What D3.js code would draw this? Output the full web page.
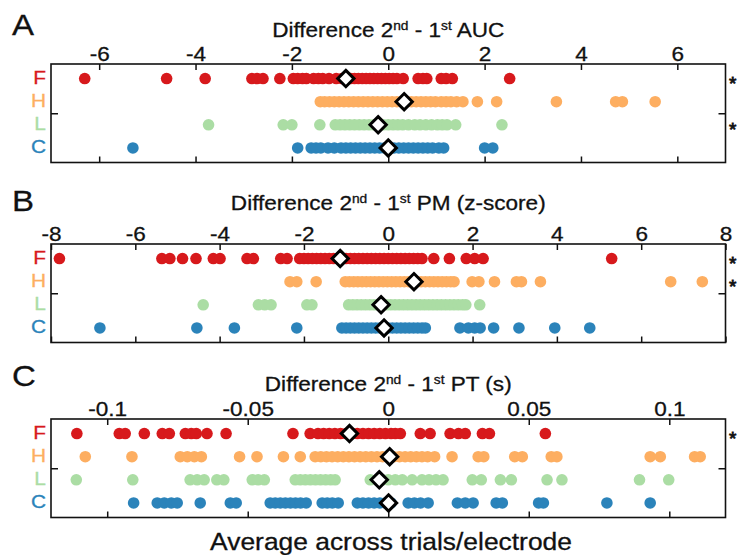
<!DOCTYPE html>
<html>
<head>
<meta charset="utf-8">
<script src="https://cdn.jsdelivr.net/npm/d3@7"></script>
<style>
  body { margin: 0; background: #fff; }
  text { font-family: "Liberation Sans", Arial, sans-serif; }
</style>
</head>
<body>
<div id="chart"></div>
<script>
const svgWidth = 737;
const svgHeight = 555;

const groups = ["F", "H", "L", "C"];
const groupColors = ["#d7191c", "#fdae61", "#abdda4", "#2b83ba"];

// A: AUC difference
const aucTicks = [-6, -4, -2, 0, 2, 4, 6];
const aucF = [-6.3, -4.6, -3.8, -2.83, -2.72, -2.6, -2.25, -1.97, -1.88, -1.78, -1.7, -1.55, -1.45, -1.36, -1.23, -1.08, -0.96, -0.86, -0.78, -0.7, -0.62, -0.54, -0.46, -0.38, -0.3, -0.22, -0.14, -0.06, 0.02, 0.1, 0.18, 0.31, 0.62, 0.72, 0.8, 1.1, 1.2, 1.33, 2.52];
const aucH = [-1.41, -1.32, -1.22, -1.12, -1.02, -0.92, -0.82, -0.72, -0.62, -0.52, -0.42, -0.32, -0.22, -0.12, -0.02, 0.08, 0.18, 0.28, 0.38, 0.48, 0.58, 0.68, 0.78, 0.88, 0.98, 1.1, 1.2, 1.3, 1.42, 1.55, 1.85, 2.25, 3.49, 4.72, 4.86, 5.54];
const aucL = [-3.73, -2.18, -2.0, -1.42, -1.1, -1.0, -0.9, -0.8, -0.7, -0.6, -0.5, -0.4, -0.3, -0.2, -0.1, 0, 0.1, 0.2, 0.3, 0.42, 0.55, 0.66, 0.78, 0.9, 1.02, 1.12, 1.22, 1.4, 2.36];
const aucC = [-5.3, -1.88, -1.6, -1.5, -1.4, -1.25, -1.12, -0.98, -0.88, -0.78, -0.68, -0.58, -0.48, -0.38, -0.28, -0.18, -0.08, 0.02, 0.12, 0.22, 0.32, 0.42, 0.52, 0.62, 0.72, 0.82, 0.92, 1.05, 1.15, 2.0, 2.17];
const aucMid = [-0.88, 0.33, -0.21, 0];
const aucStars = ["F", "L"];

// B: PM difference
const pmTicks = [-8, -6, -4, -2, 0, 2, 4, 6, 8];
const pmF = [-7.8, -5.37, -5.18, -4.88, -4.56, -4.15, -3.99, -3.35, -3.2, -2.55, -2.4, -2.1, -2.0, -1.9, -1.8, -1.7, -1.6, -1.5, -1.4, -1.3, -1.2, -1.1, -1.0, -0.9, -0.8, -0.7, -0.6, -0.5, -0.4, -0.3, -0.2, -0.1, 0, 0.1, 0.2, 0.3, 0.4, 0.5, 0.6, 0.7, 0.8, 1.08, 1.45, 1.85, 2.05, 2.25, 5.3];
const pmH = [-2.33, -2.17, -1.71, -1.02, -0.92, -0.82, -0.72, -0.62, -0.52, -0.42, -0.32, -0.22, -0.12, -0.02, 0.08, 0.18, 0.28, 0.38, 0.48, 0.58, 0.68, 0.78, 0.88, 0.98, 1.08, 1.18, 1.28, 1.38, 1.48, 1.56, 1.99, 2.15, 2.52, 3.04, 3.16, 3.61, 6.7, 7.45];
const pmL = [-4.39, -3.08, -2.93, -2.78, -1.93, -1.81, -0.94, -0.84, -0.74, -0.64, -0.54, -0.44, -0.34, -0.24, -0.14, -0.04, 0.06, 0.16, 0.26, 0.36, 0.46, 0.56, 0.66, 0.76, 0.86, 0.96, 1.06, 1.16, 1.26, 1.36, 1.46, 1.56, 1.66, 1.76, 1.84, 2.17];
const pmC = [-6.84, -4.54, -3.65, -2.17, -1.1, -1.0, -0.9, -0.8, -0.7, -0.6, -0.5, -0.4, -0.3, -0.2, -0.1, 0, 0.1, 0.2, 0.3, 0.4, 0.5, 0.6, 0.7, 0.8, 0.88, 1.7, 1.9, 2.05, 2.18, 2.5, 3.1, 3.95, 4.78];
const pmMid = [-1.14, 0.61, -0.17, -0.1];
const pmStars = ["F", "H"];

// C: PT difference (s)
const ptTicks = [-0.1, -0.05, 0, 0.05, 0.1];
const ptF = [-0.1108, -0.0957, -0.0936, -0.0868, -0.0804, -0.0779, -0.0722, -0.0701, -0.0683, -0.0645, -0.0577, -0.0339, -0.0278, -0.025, -0.023, -0.021, -0.019, -0.017, -0.015, -0.013, -0.011, -0.009, -0.007, -0.005, -0.003, -0.001, 0.001, 0.0025, 0.0043, 0.0114, 0.0149, 0.022, 0.025, 0.0274, 0.0335, 0.036, 0.0559];
const ptH = [-0.1078, -0.0912, -0.074, -0.0715, -0.069, -0.0665, -0.0529, -0.0467, -0.0373, -0.0313, -0.026, -0.024, -0.022, -0.02, -0.018, -0.016, -0.014, -0.012, -0.01, -0.008, -0.006, -0.004, -0.002, 0, 0.002, 0.004, 0.006, 0.008, 0.01, 0.012, 0.014, 0.0165, 0.0227, 0.032, 0.034, 0.045, 0.0477, 0.058, 0.06, 0.0932, 0.0968, 0.109, 0.111];
const ptL = [-0.111, -0.0909, -0.0705, -0.068, -0.0655, -0.061, -0.0585, -0.0484, -0.0463, -0.0441, -0.0331, -0.0313, -0.0295, -0.0277, -0.0259, -0.0241, -0.0223, -0.0205, -0.0189, -0.0064, -0.004, -0.002, 0, 0.0025, 0.005, 0.0085, 0.012, 0.0145, 0.017, 0.0195, 0.0299, 0.0331, 0.0399, 0.0438, 0.0565, 0.0618, 0.0894, 0.0998];
const ptC = [-0.0906, -0.0822, -0.0797, -0.0772, -0.0751, -0.0669, -0.0562, -0.0541, -0.042, -0.0402, -0.0384, -0.0366, -0.0348, -0.033, -0.0312, -0.0292, -0.0235, -0.0217, -0.0199, -0.0178, -0.011, -0.009, -0.007, -0.005, -0.003, -0.001, 0.001, 0.0071, 0.0093, 0.0115, 0.0142, 0.0246, 0.0274, 0.0302, 0.0384, 0.0406, 0.0535, 0.0552, 0.0778, 0.0932];
const ptMid = [-0.0138, 0.0005, -0.0032, 0.0001];
const ptStars = ["F"];

const panels = [
  { letter: "A", unit: "AUC", top: 64, domain: [-7, 7], ticks: aucTicks,
    rows: [aucF, aucH, aucL, aucC], mids: aucMid, stars: aucStars, letterY: 35, titleY: 37 },
  { letter: "B", unit: "PM (z-score)", top: 244, domain: [-8, 8], ticks: pmTicks,
    rows: [pmF, pmH, pmL, pmC], mids: pmMid, stars: pmStars, letterY: 211, titleY: 210 },
  { letter: "C", unit: "PT (s)", top: 419, domain: [-0.12, 0.12], ticks: ptTicks,
    rows: [ptF, ptH, ptL, ptC], mids: ptMid, stars: ptStars, letterY: 386, titleY: 391 }
];

const left = 51;
const right = 725.5;
const boxHeight = 98.5;
const sx = 1.1; // the original figure is a bit stretched sideways

const svg = d3.select("#chart")
  .append("svg")
  .attr("width", svgWidth)
  .attr("height", svgHeight);

// text that keeps the horizontal stretch of the source figure
function stretchedText(parent, x, y, size, anchor, color = "#111") {
  return parent.append("text")
    .attr("transform", `translate(${x},${y}) scale(${sx},1)`)
    .attr("font-size", size)
    .attr("text-anchor", anchor)
    .attr("fill", color)
    .attr("stroke", color)
    .attr("stroke-width", 0.3);
}

panels.forEach(p => {
  const g = svg.append("g");

  const x = d3.scaleLinear().domain(p.domain).range([left, right]);
  // rows 0..3 sit 23px apart, centred in the box
  const y = d3.scaleLinear().domain([-0.63, 3.63]).range([p.top, p.top + boxHeight]);

  // panel letter
  stretchedText(g, 12, p.letterY, 30, "start").text(p.letter);

  // title with superscripts
  const t = stretchedText(g, (left + right) / 2, p.titleY, 20.5, "middle");
  t.append("tspan").text("Difference 2");
  t.append("tspan").attr("dy", -7).attr("font-size", 12.5).text("nd");
  t.append("tspan").attr("dy", 7).text(" - 1");
  t.append("tspan").attr("dy", -7).attr("font-size", 12.5).text("st");
  t.append("tspan").attr("dy", 7).text(" " + p.unit);

  // top axis with ticks pointing inside
  const topAxis = g.append("g")
    .attr("transform", `translate(0,${p.top})`)
    .call(d3.axisTop(x).tickValues(p.ticks).tickSize(-6).tickPadding(3)
      .tickFormat(d => String(d)));
  topAxis.select(".domain").remove();
  topAxis.selectAll("line").attr("stroke", "#111").attr("stroke-width", 1.5);
  topAxis.selectAll("text")
    .attr("font-size", 20.5)
    .attr("fill", "#111")
    .attr("stroke", "#111")
    .attr("stroke-width", 0.3)
    .attr("font-family", "Liberation Sans, Arial, sans-serif")
    .attr("transform", `scale(${sx},1)`);

  const bottomAxis = g.append("g")
    .attr("transform", `translate(0,${p.top + boxHeight})`)
    .call(d3.axisBottom(x).tickValues(p.ticks).tickSize(-6).tickFormat(""));
  bottomAxis.select(".domain").remove();
  bottomAxis.selectAll("line").attr("stroke", "#111").attr("stroke-width", 1.5);

  const leftAxis = g.append("g")
    .attr("transform", `translate(${left},0)`)
    .call(d3.axisLeft(y).tickValues([1.5]).tickSize(-7).tickFormat(""));
  leftAxis.select(".domain").remove();
  leftAxis.selectAll("line").attr("stroke", "#111").attr("stroke-width", 1.5);

  const rightAxis = g.append("g")
    .attr("transform", `translate(${right},0)`)
    .call(d3.axisRight(y).tickValues([1.5]).tickSize(-7).tickFormat(""));
  rightAxis.select(".domain").remove();
  rightAxis.selectAll("line").attr("stroke", "#111").attr("stroke-width", 1.5);

  g.append("rect")
    .attr("x", left)
    .attr("y", p.top)
    .attr("width", right - left)
    .attr("height", boxHeight)
    .attr("fill", "none")
    .attr("stroke", "#111")
    .attr("stroke-width", 1.6);

  // dots per group
  p.rows.forEach((vals, i) => {
    g.append("g")
      .selectAll("circle")
      .data(vals)
      .enter()
      .append("circle")
      .attr("cx", d => x(d))
      .attr("cy", y(i))
      .attr("r", 5.8)
      .attr("fill", groupColors[i]);

    stretchedText(g, 46, y(i) + 5.5, 19, "end", groupColors[i])
      .text(groups[i]);
  });

  // group centre markers
  g.append("g")
    .selectAll("path")
    .data(p.mids)
    .enter()
    .append("path")
    .attr("d", d3.symbol(d3.symbolDiamond2, 170))
    .attr("transform", (d, i) => `translate(${x(d)},${y(i)})`)
    .attr("fill", "#fff")
    .attr("stroke", "#000")
    .attr("stroke-width", 3);

  // significance marks
  p.stars.forEach(s => {
    const i = groups.indexOf(s);
    g.append("text")
      .attr("x", 729)
      .attr("y", y(i) + 11.5)
      .attr("font-size", 19)
      .attr("fill", "#111")
      .attr("stroke", "#111")
      .attr("stroke-width", 0.8)
      .text("*");
  });
});

stretchedText(svg, 391, 550, 24, "middle")
  .text("Average across trials/electrode");
</script>
</body>
</html>
